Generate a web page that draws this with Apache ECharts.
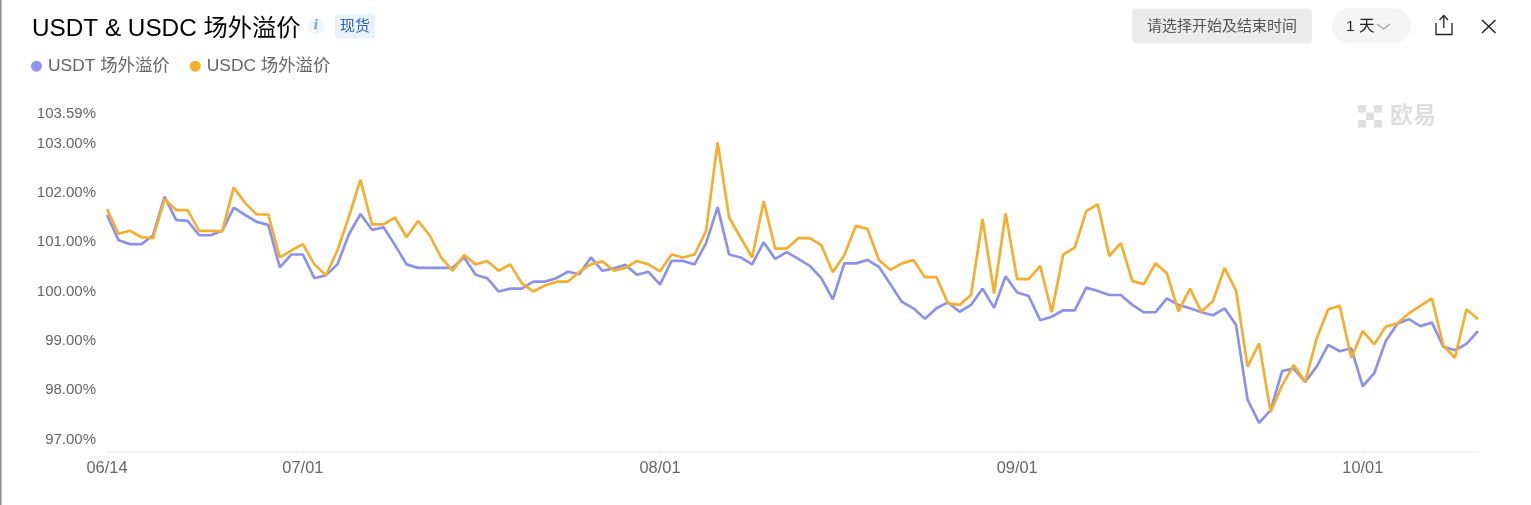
<!DOCTYPE html>
<html><head><meta charset="utf-8">
<style>html,body{margin:0;padding:0;background:#fff}#c{width:1531px;height:505px}</style>
<script src="https://cdn.jsdelivr.net/npm/echarts@6/dist/echarts.min.js"></script>
</head><body><div id="c"></div>
<script>
const startDate = [6, 14];
const dayCount = 120;
const xTickLabels = ['06/14', '07/01', '08/01', '09/01', '10/01'];
const yTickValues = [97, 98, 99, 100, 101, 102, 103, 103.59];
const usdt = [101.52,101.01,100.93,100.93,101.11,101.89,101.42,101.40,101.11,101.11,101.20,101.67,101.52,101.38,101.32,100.46,100.72,100.72,100.24,100.30,
100.52,101.13,101.54,101.22,101.27,100.91,100.52,100.45,100.45,100.45,100.45,100.66,100.31,100.24,99.97,100.03,100.03,100.17,100.17,100.24,
100.37,100.32,100.66,100.39,100.44,100.51,100.31,100.37,100.11,100.59,100.59,100.52,100.95,101.68,100.72,100.66,100.52,100.97,100.63,100.77,
100.63,100.49,100.24,99.81,100.54,100.54,100.61,100.47,100.12,99.76,99.63,99.42,99.63,99.75,99.56,99.70,100.03,99.64,100.28,99.95,
99.88,99.39,99.46,99.59,99.59,100.05,99.98,99.90,99.90,99.70,99.55,99.55,99.83,99.70,99.63,99.55,99.49,99.63,99.29,97.78,
97.31,97.57,98.36,98.41,98.14,98.45,98.89,98.76,98.82,98.05,98.32,98.97,99.32,99.41,99.27,99.34,98.85,98.78,98.91,99.17];
const usdc = [101.64,101.14,101.20,101.07,101.05,101.84,101.62,101.62,101.20,101.20,101.19,102.08,101.76,101.53,101.53,100.66,100.80,100.93,100.52,100.30,
100.80,101.49,102.23,101.33,101.33,101.47,101.07,101.40,101.11,100.66,100.39,100.71,100.52,100.59,100.39,100.52,100.14,99.97,100.09,100.17,
100.17,100.37,100.52,100.58,100.39,100.45,100.59,100.52,100.38,100.72,100.66,100.72,101.20,102.99,101.47,101.06,100.66,101.80,100.84,100.84,
101.05,101.05,100.91,100.36,100.71,101.30,101.24,100.61,100.41,100.54,100.61,100.26,100.26,99.73,99.70,99.90,101.44,99.93,101.55,100.22,
100.22,100.49,99.55,100.72,100.86,101.60,101.74,100.69,100.95,100.18,100.12,100.54,100.34,99.57,100.03,99.56,99.78,100.45,99.99,98.45,
98.92,97.53,98.07,98.48,98.14,99.02,99.61,99.68,98.63,99.17,98.90,99.26,99.32,99.53,99.68,99.83,98.87,98.63,99.61,99.41];

const monthLens = {6:30,7:31,8:31,9:30,10:31};
const categories = [];
{ let m = startDate[0], d = startDate[1];
  for (let i = 0; i < dayCount; i++) {
    categories.push(String(m).padStart(2,'0') + '/' + String(d).padStart(2,'0'));
    d++; if (d > monthLens[m]) { d = 1; m++; }
  } }
const FONT = '"Liberation Sans","Noto Sans CJK SC",sans-serif';
const showX = (i, v) => xTickLabels.includes(v);
const chart = echarts.init(document.getElementById('c'), null, {renderer:'canvas'});
const txt = (x,y,text,size,fill,extra) => ({type:'text',x,y,silent:true,style:Object.assign({text,fontSize:size,fill,fontFamily:FONT,verticalAlign:'middle'},extra||{})});
const rect = (x,y,w,h,r,fill) => ({type:'rect',silent:true,shape:{x,y,width:w,height:h,r},style:{fill}});
const line = (pts,stroke,lw) => ({type:'polyline',silent:true,shape:{points:pts},style:{stroke,lineWidth:lw,fill:null}});
const grey = '#dfdfdf';
chart.setOption({
  animation:false,
  backgroundColor:'#fff',
  title:{text:'USDT & USDC 场外溢价',left:27,top:12,textStyle:{fontFamily:FONT,fontSize:24.3,fontWeight:'normal',color:'#000'}},
  legend:{left:26,top:52.5,icon:'circle',itemWidth:11,itemHeight:11,itemGap:20,
    textStyle:{fontFamily:FONT,fontSize:17.4,color:'#666',padding:[0,0,0,1]},
    data:['USDT 场外溢价','USDC 场外溢价']},
  grid:{left:107,right:53,top:112.8,bottom:53,containLabel:false},
  xAxis:{type:'category',boundaryGap:false,data:categories,
    axisLine:{lineStyle:{color:'#f3f3f3',width:2}},
    axisTick:{show:true,interval:showX,length:3,lineStyle:{color:'#eeeeee'}},
    axisLabel:{interval:showX,hideOverlap:false,color:'#666',fontSize:16.4,fontFamily:FONT,margin:8.5},
    splitLine:{show:false}},
  yAxis:{type:'value',min:96.72,max:103.59,
    axisLine:{show:false},axisTick:{show:false},splitLine:{show:false},
    axisLabel:{customValues:yTickValues,color:'#666',fontSize:15,fontFamily:FONT,margin:11,verticalAlign:'top',padding:[-6,0,0,0],
      formatter:v=>v.toFixed(2)+'%'}},
  series:[
    {name:'USDT 场外溢价',type:'line',data:usdt,showSymbol:false,smooth:false,z:2,color:'#8f94ee',lineStyle:{width:2.7,color:'#8c92ea'}},
    {name:'USDC 场外溢价',type:'line',data:usdc,showSymbol:false,smooth:false,z:3,color:'#fbae2b',lineStyle:{width:2.7,color:'#f4ae30'}}
  ],
  graphic:{elements:[
    rect(0,0,1.5,505,0,'#8a8a8a'),
    {type:'circle',silent:true,shape:{cx:316,cy:26,r:8.5},style:{fill:'#eef5fb'}},
    txt(316,26,'i',12,'#6aa6dc',{align:'center',fontStyle:'italic',fontWeight:'bold',fontFamily:'"DejaVu Serif",serif'}),
    rect(335,14,40,24.5,3,'#e9f1fd'),
    txt(355,26.5,'现货',15,'#2f5fc0',{align:'center'}),
    rect(1132,8.5,180,35,4,'#ebebeb'),
    txt(1222,27,'请选择开始及结束时间',15,'#555',{align:'center'}),
    rect(1332,8,79,35.5,17.5,'#f5f5f5'),
    txt(1346,27,'1 天',15.5,'#222'),
    line([[1377,24],[1383.5,29],[1390,24]],'#a8a8a8',1.5),
    line([[1436,23],[1436,34.5],[1452,34.5],[1452,23]],'#222',1.3),
    line([[1443.8,28],[1443.8,16]],'#222',1.3),
    line([[1439.5,20],[1443.8,15.5],[1448,20]],'#222',1.3),
    line([[1482,20],[1495.5,33]],'#222',1.5),
    line([[1495.5,20],[1482,33]],'#222',1.5),
    rect(1358,105,8,7.5,0,grey),rect(1374,105,8,7.5,0,grey),
    rect(1366,112.5,8,7.5,0,grey),
    rect(1358,120,8,7.5,0,grey),rect(1374,120,8,7.5,0,grey),
    txt(1390,116.5,'欧易',23,'#dedede',{fontWeight:'bold'})
  ]}
});
</script></body></html>
